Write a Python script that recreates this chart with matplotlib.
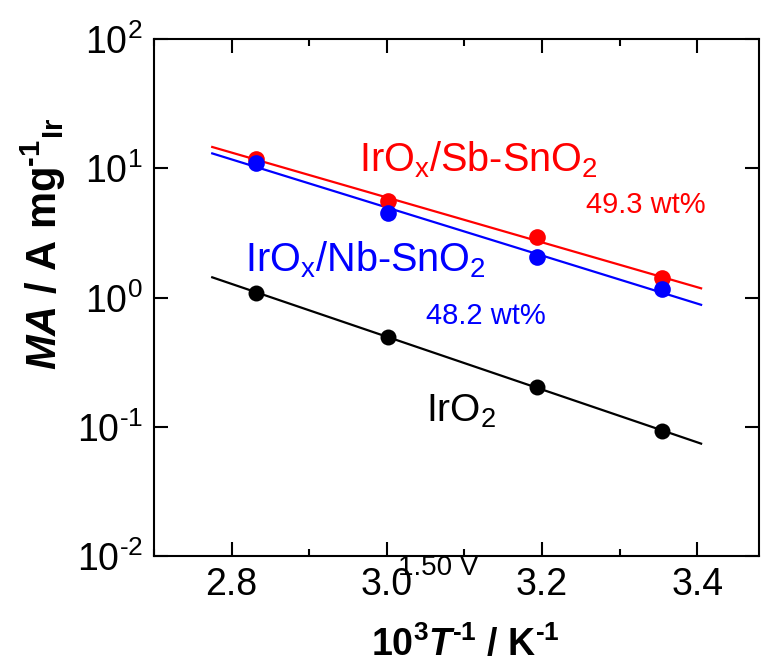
import numpy as np
import matplotlib
matplotlib.use("Agg")
import matplotlib.pyplot as plt
from matplotlib.ticker import LogLocator, MultipleLocator, NullLocator, FuncFormatter

plt.rcParams['font.family'] = ['Liberation Sans', 'DejaVu Sans']
plt.rcParams['mathtext.fontset'] = 'custom'
plt.rcParams['mathtext.rm'] = 'Liberation Sans'
plt.rcParams['mathtext.it'] = 'Liberation Sans:italic'
plt.rcParams['mathtext.bf'] = 'Liberation Sans:bold'
plt.rcParams['mathtext.bfit'] = 'Liberation Sans:bold:italic'
plt.rcParams['mathtext.default'] = 'regular'

HY = '\u2010'  # short hyphen used for negative exponents

# 1000/T for 80, 60, 40, 25 degC
inv_T = [2.832, 3.002, 3.193, 3.354]
ma_sb = [11.85, 5.63, 2.94, 1.41]       # IrOx/Sb-SnO2
ma_nb = [11.1, 4.50, 2.08, 1.17]        # IrOx/Nb-SnO2
ma_iro2 = [1.09, 0.499, 0.203, 0.0935]  # IrO2

fit_range = [2.775, 3.405]

fig = plt.figure(figsize=(7.74, 6.66), dpi=100)
ax = fig.add_axes([0.199, 0.165, 0.782, 0.776])

series = [
    (ma_sb, '#ff0000', 12),
    (ma_nb, '#0000ff', 12),
    (ma_iro2, 'black', 11.5),
]

# Arrhenius fits (straight lines in log10 MA vs 1/T)
xf = np.linspace(fit_range[0], fit_range[1], 50)
for ma, col, ms in series:
    k, b = np.polyfit(inv_T, np.log10(ma), 1)
    ax.plot(xf, 10 ** (k * xf + b), color=col, lw=1.6, zorder=2)
for ma, col, ms in series:
    ax.plot(inv_T, ma, 'o', color=col, ms=ms, mec='none', zorder=3)

ax.set_yscale('log')
ax.set_xlim(2.7, 3.48)
ax.set_ylim(1e-2, 1e2)
ax.xaxis.set_major_locator(MultipleLocator(0.2))
ax.xaxis.set_minor_locator(MultipleLocator(0.1))
ax.yaxis.set_major_locator(LogLocator(base=10, numticks=10))
ax.yaxis.set_minor_locator(NullLocator())
ax.set_xticks([2.8, 3.0, 3.2, 3.4])
ax.set_xticklabels(['2.8', '3.0', '3.2', '3.4'])


def log_fmt(v, pos):
    e = int(round(np.log10(v)))
    s = str(e).replace('-', HY)
    return r'$10^{%s}$' % s


ax.yaxis.set_major_formatter(FuncFormatter(log_fmt))

ax.tick_params(which='both', direction='in', top=True, right=True,
               width=1.5, labelsize=27)
ax.tick_params(which='major', length=10, pad=8)
ax.tick_params(which='minor', length=5)
for sp in ax.spines.values():
    sp.set_linewidth(1.5)

ax.set_xlabel(r'$\mathbf{10^{3}}\mathbfit{T}^{\mathbf{%s1}}$ / K$^{\mathbf{%s1}}$' % (HY, HY),
              fontsize=27, fontweight='bold')
ax.xaxis.set_label_coords(0.515, -0.135)
ax.set_ylabel(r'$\mathbfit{MA}$ / A mg$^{\mathbf{%s1}}{}_{\mathbf{Ir}}$' % HY,
              fontsize=30, fontweight='bold')
ax.yaxis.set_label_coords(-0.142, 0.605)

# curve labels
ax.text(2.964, 10 ** 0.981, r'IrO$_{x}$/Sb-SnO$_{2}$', color='#ff0000',
        fontsize=28.5, ha='left', va='baseline')
ax.text(3.257, 10 ** 0.658, '49.3 wt%', color='#ff0000', fontsize=21,
        ha='left', va='baseline')
ax.text(2.817, 10 ** 0.201, r'IrO$_{x}$/Nb-SnO$_{2}$', color='#0000ff',
        fontsize=28.5, ha='left', va='baseline')
ax.text(3.051, 10 ** -0.204, '48.2 wt%', color='#0000ff', fontsize=21,
        ha='left', va='baseline')
ax.text(3.051, 10 ** -0.96, r'IrO$_{2}$', color='black', fontsize=28,
        ha='left', va='baseline')
ax.text(3.014, 10 ** -2.146, '1.50 V', color='black', fontsize=20,
        ha='left', va='baseline')

fig.savefig('out.png', dpi=100)
